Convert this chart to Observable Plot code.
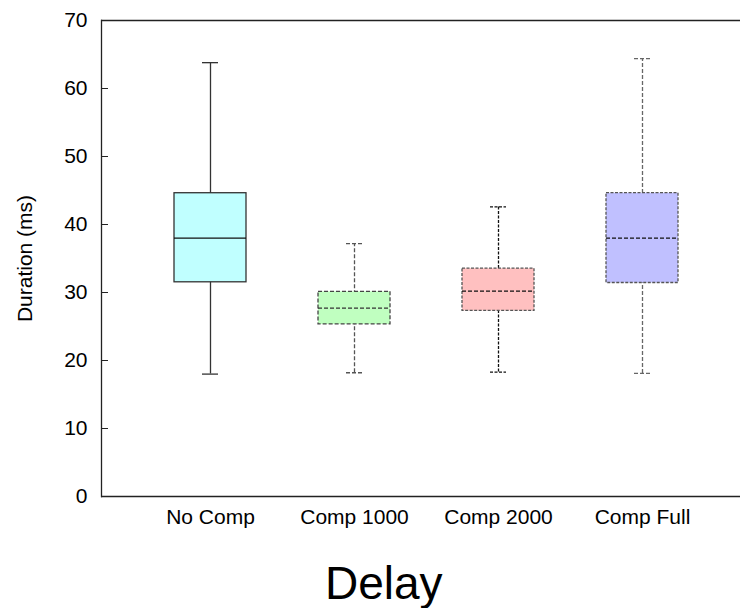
<!DOCTYPE html>
<html>
<head>
<meta charset="utf-8">
<script src="https://cdn.jsdelivr.net/npm/d3@7"></script>
<script src="https://cdn.jsdelivr.net/npm/@observablehq/plot@0.6"></script>
<style>
  html, body { margin: 0; padding: 0; background: #fff; }
  #chart svg { display: block; }
</style>
</head>
<body>
<div id="chart"></div>
<script>
// Data
const categories = ["No Comp", "Comp 1000", "Comp 2000", "Comp Full"];
const whiskerLow  = [18.0, 18.2, 18.3, 18.1];
const quartile1   = [31.5, 25.3, 27.3, 31.4];
const median      = [38.0, 27.7, 30.2, 38.0];
const quartile3   = [44.6, 30.1, 33.5, 44.6];
const whiskerHigh = [63.8, 37.2, 42.6, 64.4];
const yTicks = [0, 10, 20, 30, 40, 50, 60, 70];
const yLabel = "Duration (ms)";
const xTitle = "Delay";

// Styles (separate from data)
const fills = ["#c0ffff", "#c0ffc0", "#ffc0c0", "#c0c0ff"];
const boxStroke = ["#333", "#444", "#555", "#555"];
const boxDash = [null, "4,2", "3,1.5", "3,1.5"];
const whiskerStroke = ["#333", "#555", "#111", "#666"];
const whiskerDash = [null, "4,2", "3,1.5", "4,2"];
const medianStroke = ["#111", "#333", "#111", "#111"];
const medianDash = [null, "4,2", "4,2", "4,2"];

const rows = categories.map((c, i) => ({
  cat: c, lo: whiskerLow[i], q1: quartile1[i], med: median[i], q3: quartile3[i], hi: whiskerHigh[i], i
}));

const font = "'Liberation Sans', Arial, Helvetica, sans-serif";
const marks = [];

rows.forEach((r) => {
  const i = r.i;
  marks.push(Plot.ruleX([r], {x: "cat", y1: "lo", y2: "hi", stroke: whiskerStroke[i], strokeWidth: 1.3, strokeDasharray: whiskerDash[i]}));
  marks.push(Plot.tickY([r], {x: "cat", y: "lo", stroke: whiskerStroke[i], strokeWidth: 1.3, strokeDasharray: whiskerDash[i], insetLeft: 28, insetRight: 28}));
  marks.push(Plot.tickY([r], {x: "cat", y: "hi", stroke: whiskerStroke[i], strokeWidth: 1.3, strokeDasharray: whiskerDash[i], insetLeft: 28, insetRight: 28}));
  marks.push(Plot.barY([r], {x: "cat", y1: "q1", y2: "q3", fill: fills[i], stroke: boxStroke[i], strokeWidth: 1.3, strokeDasharray: boxDash[i]}));
  marks.push(Plot.tickY([r], {x: "cat", y: "med", stroke: medianStroke[i], strokeWidth: 1.3, strokeDasharray: medianDash[i]}));
});

const chart = Plot.plot({
  width: 740,
  height: 608,
  marginLeft: 101,
  marginRight: 0,
  marginTop: 20,
  marginBottom: 112,
  style: {fontFamily: font, fontSize: "21px", color: "#000", background: "#fff"},
  x: {type: "band", domain: categories, range: [101, 750], padding: 0.5, label: null},
  y: {domain: [0, 70], label: null},
  marks: [
    Plot.ruleY([0, 70], {stroke: "#222", strokeWidth: 1.3}),
    Plot.frame({anchor: "left", stroke: "#222", strokeWidth: 1.3}),
    Plot.axisY(yTicks, {tickSize: 7, dx: 7, tickPadding: 14, label: null, stroke: "#222", fill: "#000", fontSize: 21}),
    Plot.axisX({tickSize: 0, tickPadding: 13, label: null, fill: "#000", fontSize: 21}),
    ...marks,
    Plot.text([yLabel], {frameAnchor: "left", textAnchor: "middle", dx: -76, rotate: -90, text: d => d, fontSize: 21, fill: "#000"}),
    Plot.text([xTitle], {frameAnchor: "bottom", textAnchor: "middle", dx: 383.3 - 420.5, dy: 102, lineAnchor: "bottom", text: d => d, fontSize: 46, fill: "#000"})
  ]
});

document.getElementById("chart").appendChild(chart);
</script>
</body>
</html>
